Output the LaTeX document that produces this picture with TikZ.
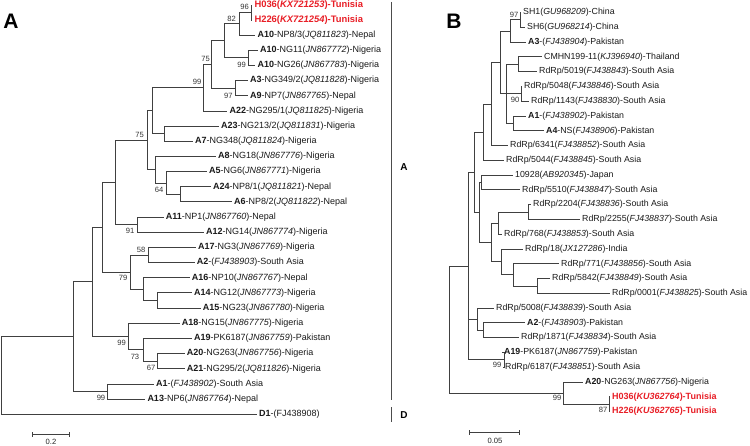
\documentclass[tikz,border=0pt]{standalone}
\usepackage{fontspec}
\setmainfont{Liberation Sans}
\usetikzlibrary{calc}
\definecolor{tunred}{RGB}{232,30,38}
\begin{document}
\begin{tikzpicture}[x=1pt,y=-1pt,
  br/.style={draw=black!75,line width=0.8pt},
  leaf/.style={anchor=west,inner xsep=2pt,inner ysep=0.5pt,font=\fontsize{9}{10}\selectfont,text=black!90},
  leafb/.style={leaf,font=\fontsize{8.8}{10}\selectfont},
  redleaf/.style={leaf,text=tunred,font=\fontsize{9.4}{10}\selectfont\bfseries},
  redleafb/.style={leaf,text=tunred,font=\fontsize{9}{10}\selectfont\bfseries},
  bs/.style={inner sep=0pt,font=\fontsize{7.6}{8}\selectfont,text=black!80},
  panel/.style={inner sep=0pt,font=\fontsize{21}{24}\selectfont\bfseries},
  cladelab/.style={inner sep=0pt,font=\fontsize{10}{12}\selectfont\bfseries},
  divl/.style={draw=black!70,line width=0.9pt},
  sbar/.style={draw=black!75,line width=0.8pt},
  sblab/.style={inner sep=0pt,font=\fontsize{7.6}{9}\selectfont,text=black!85},
]
\useasboundingbox (0,0) rectangle (750,446);

% ---------------- panel labels
\node[panel] (pA) at (11,21) {A};
\node[panel] (pB) at (454,21) {B};

% ---------------- tree A leaves
\node[redleaf] (a1) at (252.3,5) {H036(\textit{KX721253})-Tunisia};
\node[redleaf] (a2) at (252.3,20) {H226(\textit{KX721254})-Tunisia};
\node[leaf] (a3) at (255.3,35) {\textbf{A10}-NP8/3(\textit{JQ811823})-Nepal};
\node[leaf] (a4) at (258,50.4) {\textbf{A10}-NG11(\textit{JN867772})-Nigeria};
\node[leaf] (a5) at (255.3,65.4) {\textbf{A10}-NG26(\textit{JN867783})-Nigeria};
\node[leaf] (a6) at (248,80.6) {\textbf{A3}-NG349/2(\textit{JQ811828})-Nigeria};
\node[leaf] (a7) at (248,95.8) {\textbf{A9}-NP7(\textit{JN867765})-Nepal};
\node[leaf] (a8) at (227.3,111) {\textbf{A22}-NG295/1(\textit{JQ811825})-Nigeria};
\node[leaf] (a9) at (219,126.2) {\textbf{A23}-NG213/2(\textit{JQ811831})-Nigeria};
\node[leaf] (a10) at (193,141.4) {\textbf{A7}-NG348(\textit{JQ811824})-Nigeria};
\node[leaf] (a11) at (216,156.5) {\textbf{A8}-NG18(\textit{JN867776})-Nigeria};
\node[leaf] (a12) at (207,171.6) {\textbf{A5}-NG6(\textit{JN867771})-Nigeria};
\node[leaf] (a13) at (211,186.8) {\textbf{A24}-NP8/1(\textit{JQ811821})-Nepal};
\node[leaf] (a14) at (232,201.9) {\textbf{A6}-NP8/2(\textit{JQ811822})-Nepal};
\node[leaf] (a15) at (163.7,217) {\textbf{A11}-NP1(\textit{JN867760})-Nepal};
\node[leaf] (a16) at (204,232.2) {\textbf{A12}-NG14(\textit{JN867774})-Nigeria};
\node[leaf] (a17) at (196,247.4) {\textbf{A17}-NG3(\textit{JN867769})-Nigeria};
\node[leaf] (a18) at (194.7,262.5) {\textbf{A2}-(\textit{FJ438903})-South Asia};
\node[leaf] (a19) at (189.7,277.7) {\textbf{A16}-NP10(\textit{JN867767})-Nepal};
\node[leaf] (a20) at (192,292.9) {\textbf{A14}-NG12(\textit{JN867773})-Nigeria};
\node[leaf] (a21) at (200.7,308) {\textbf{A15}-NG23(\textit{JN867780})-Nigeria};
\node[leaf] (a22) at (179.7,323.2) {\textbf{A18}-NG15(\textit{JN867775})-Nigeria};
\node[leaf] (a23) at (192,338.4) {\textbf{A19}-PK6187(\textit{JN867759})-Pakistan};
\node[leaf] (a24) at (184.7,353.6) {\textbf{A20}-NG263(\textit{JN867756})-Nigeria};
\node[leaf] (a25) at (184.7,368.8) {\textbf{A21}-NG295/2(\textit{JQ811826})-Nigeria};
\node[leaf] (a26) at (154,384) {\textbf{A1}-(\textit{FJ438902})-South Asia};
\node[leaf] (a27) at (145.3,399.2) {\textbf{A13}-NP6(\textit{JN867764})-Nepal};
\node[leaf] (a28) at (257,414.4) {\textbf{D1}-(FJ438908)};

% ---------------- tree A internal nodes
\coordinate (nA1) at (251,12.5);
\coordinate (nA2) at (239,23.75);
\coordinate (nA3) at (248.3,57.9);
\coordinate (nA4) at (224.3,40.8);
\coordinate (nA5) at (235.7,88.2);
\coordinate (nA6) at (211.7,64.5);
\coordinate (nA7) at (203.3,87.75);
\coordinate (nAX) at (164,133.8);
\coordinate (nA8) at (152.7,110.8);
\coordinate (nA10) at (180,194.35);
\coordinate (nA11) at (166,183);
\coordinate (nA12) at (155,169.75);
\coordinate (nA9) at (147,140.3);
\coordinate (nA13) at (137,224.6);
\coordinate (nA14) at (115,182.45);
\coordinate (nA15) at (148,254.95);
\coordinate (nA16) at (157,300.45);
\coordinate (nA17) at (143,289.1);
\coordinate (nA18) at (130,272);
\coordinate (nA19) at (102,227.2);
\coordinate (nA22) at (157,361.2);
\coordinate (nA20) at (143,349.8);
\coordinate (nA21) at (128,336.5);
\coordinate (nA23) at (92,281.85);
\coordinate (nA24) at (107,391.6);
\coordinate (nA25) at (73,336.7);
\coordinate (rootA) at (1,375.55);

\draw[br] (nA1) |- (a1.west); \draw[br] (nA1) |- (a2.west);
\draw[br] (nA2) |- (nA1); \draw[br] (nA2) |- (a3.west);
\draw[br] (nA3) |- (a4.west); \draw[br] (nA3) |- (a5.west);
\draw[br] (nA4) |- (nA2); \draw[br] (nA4) |- (nA3);
\draw[br] (nA5) |- (a6.west); \draw[br] (nA5) |- (a7.west);
\draw[br] (nA6) |- (nA4); \draw[br] (nA6) |- (nA5);
\draw[br] (nA7) |- (nA6); \draw[br] (nA7) |- (a8.west);
\draw[br] (nAX) |- (a9.west); \draw[br] (nAX) |- (a10.west);
\draw[br] (nA8) |- (nA7); \draw[br] (nA8) |- (nAX);
\draw[br] (nA10) |- (a13.west); \draw[br] (nA10) |- (a14.west);
\draw[br] (nA11) |- (a12.west); \draw[br] (nA11) |- (nA10);
\draw[br] (nA12) |- (a11.west); \draw[br] (nA12) |- (nA11);
\draw[br] (nA9) |- (nA8); \draw[br] (nA9) |- (nA12);
\draw[br] (nA13) |- (a15.west); \draw[br] (nA13) |- (a16.west);
\draw[br] (nA14) |- (nA9); \draw[br] (nA14) |- (nA13);
\draw[br] (nA15) |- (a17.west); \draw[br] (nA15) |- (a18.west);
\draw[br] (nA16) |- (a20.west); \draw[br] (nA16) |- (a21.west);
\draw[br] (nA17) |- (a19.west); \draw[br] (nA17) |- (nA16);
\draw[br] (nA18) |- (nA15); \draw[br] (nA18) |- (nA17);
\draw[br] (nA19) |- (nA14); \draw[br] (nA19) |- (nA18);
\draw[br] (nA22) |- (a24.west); \draw[br] (nA22) |- (a25.west);
\draw[br] (nA20) |- (a23.west); \draw[br] (nA20) |- (nA22);
\draw[br] (nA21) |- (a22.west); \draw[br] (nA21) |- (nA20);
\draw[br] (nA23) |- (nA19); \draw[br] (nA23) |- (nA21);
\draw[br] (nA24) |- (a26.west); \draw[br] (nA24) |- (a27.west);
\draw[br] (nA25) |- (nA23); \draw[br] (nA25) |- (nA24);
\draw[br] (rootA) |- (nA25); \draw[br] (rootA) |- (a28.west);

% bootstrap A
\node[bs] (bA1) at (244.5,7) {96};
\node[bs] (bA2) at (231.7,18.5) {82};
\node[bs] (bA3) at (241.5,64.5) {99};
\node[bs] (bA5) at (228.3,95.7) {97};
\node[bs] (bA6) at (205.5,59.3) {75};
\node[bs] (bA7) at (197,82) {99};
\node[bs] (bA9) at (139.5,135) {75};
\node[bs] (bA11) at (159,190) {64};
\node[bs] (bA13) at (130,231) {91};
\node[bs] (bA15) at (141,249.5) {58};
\node[bs] (bA18) at (123,278) {79};
\node[bs] (bA21) at (121.7,343) {99};
\node[bs] (bA20) at (135,357) {73};
\node[bs] (bA22) at (151,368) {67};
\node[bs] (bA24) at (101,398) {99};

% scale bar A
\coordinate (sA1) at (32,434.5); \coordinate (sA2) at (69,434.5);
\draw[sbar] (sA1) -- (sA2);
\draw[sbar] ($(sA1)+(0,-2.5)$) -- ($(sA1)+(0,2.5)$);
\draw[sbar] ($(sA2)+(0,-2.5)$) -- ($(sA2)+(0,2.5)$);
\node[sblab] (sAl) at (51,441.5) {0.2};

% ---------------- divider and clade labels
\draw[divl] (391.5,2) -- (391.5,400);
\draw[divl] (391.5,407) -- (391.5,422);
\node[cladelab] (cA) at (404,167) {A};
\node[cladelab] (cD) at (404,415) {D};

% ---------------- tree B leaves
\node[leafb] (b1) at (521,12.5) {SH1(\textit{GU968209})-China};
\node[leafb] (b2) at (525,27.28) {SH6(\textit{GU968214})-China};
\node[leafb] (b3) at (526,42.06) {\textbf{A3}-(\textit{FJ438904})-Pakistan};
\node[leafb] (b4) at (542,56.84) {CMHN199-11(\textit{KJ396940})-Thailand};
\node[leafb] (b5) at (537,71.62) {RdRp/5019(\textit{FJ438843})-South Asia};
\node[leafb] (b6) at (522,86.4) {RdRp/5048(\textit{FJ438846})-South Asia};
\node[leafb] (b7) at (529,101.18) {RdRp/1143(\textit{FJ438830})-South Asia};
\node[leafb] (b8) at (526,115.96) {\textbf{A1}-(\textit{FJ438902})-Pakistan};
\node[leafb] (b9) at (544,130.74) {\textbf{A4}-NS(\textit{FJ438906})-Pakistan};
\node[leafb] (b10) at (508,145.52) {RdRp/6341(\textit{FJ438852})-South Asia};
\node[leafb] (b11) at (504,160.3) {RdRp/5044(\textit{FJ438845})-South Asia};
\node[leafb] (b12) at (513,175.08) {10928(\textit{AB920345})-Japan};
\node[leafb] (b13) at (520,189.86) {RdRp/5510(\textit{FJ438847})-South Asia};
\node[leafb] (b14) at (531,204.64) {RdRp/2204(\textit{FJ438836})-South Asia};
\node[leafb] (b15) at (580,219.42) {RdRp/2255(\textit{FJ438837})-South Asia};
\node[leafb] (b16) at (502,234.2) {RdRp/768(\textit{FJ438853})-South Asia};
\node[leafb] (b17) at (523,248.98) {RdRp/18(\textit{JX127286})-India};
\node[leafb] (b18) at (559,263.76) {RdRp/771(\textit{FJ438856})-South Asia};
\node[leafb] (b19) at (550,278.54) {RdRp/5842(\textit{FJ438849})-South Asia};
\node[leafb] (b20) at (610,293.32) {RdRp/0001(\textit{FJ438825})-South Asia};
\node[leafb] (b21) at (494,308.1) {RdRp/5008(\textit{FJ438839})-South Asia};
\node[leafb] (b22) at (525,322.88) {\textbf{A2}-(\textit{FJ438903})-Pakistan};
\node[leafb] (b23) at (519,337.66) {RdRp/1871(\textit{FJ438834})-South Asia};
\node[leafb] (b24) at (502,352.44) {\textbf{A19}-PK6187(\textit{JN867759})-Pakistan};
\node[leafb] (b25) at (503,367.22) {RdRp/6187(\textit{FJ438851})-South Asia};
\node[leafb] (b26) at (583,382) {\textbf{A20}-NG263(\textit{JN867756})-Nigeria};
\node[redleafb] (b27) at (610,396.78) {H036(\textit{KU362764})-Tunisia};
\node[redleafb] (b28) at (610,411.56) {H226(\textit{KU362765})-Tunisia};

% ---------------- tree B internal nodes
\coordinate (nB1) at (520,19.89);
\coordinate (nB2) at (510,30.98);
\coordinate (nB3) at (518,64.23);
\coordinate (nB4) at (521,93.79);
\coordinate (nB5) at (513,123.35);
\coordinate (nB6) at (506,93.79);
\coordinate (nB7) at (500,62.39);
\coordinate (nB8) at (491,103.95);
\coordinate (nB9) at (483,132.1);
\coordinate (nB10) at (481,182.47);
\coordinate (nB11) at (528,212.03);
\coordinate (nB12) at (498,223.1);
\coordinate (nB15) at (537,285.93);
\coordinate (nB14) at (513,274.85);
\coordinate (nB13) at (501,261.9);
\coordinate (nB16) at (491,242.5);
\coordinate (nB17) at (479,212.5);
\coordinate (nB18) at (474,172.3);
\coordinate (nB20) at (483,330.27);
\coordinate (nB21) at (477,319.2);
\coordinate (nB19) at (504,359.83);
\coordinate (nB22) at (468,266.07);
\coordinate (nB24) at (609,404.17);
\coordinate (nB25) at (563,393.1);
\coordinate (rootB) at (449,329.6);

\draw[br] (nB1) |- (b1.west); \draw[br] (nB1) |- (b2.west);
\draw[br] (nB2) |- (nB1); \draw[br] (nB2) |- (b3.west);
\draw[br] (nB3) |- (b4.west); \draw[br] (nB3) |- (b5.west);
\draw[br] (nB4) |- (b6.west); \draw[br] (nB4) |- (b7.west);
\draw[br] (nB5) |- (b8.west); \draw[br] (nB5) |- (b9.west);
\draw[br] (nB6) |- (nB3); \draw[br] (nB6) |- (nB4); \draw[br] (nB6) |- (nB5);
\draw[br] (nB7) |- (nB2); \draw[br] (nB7) |- (nB6);
\draw[br] (nB8) |- (nB7); \draw[br] (nB8) |- (b10.west);
\draw[br] (nB9) |- (nB8); \draw[br] (nB9) |- (b11.west);
\draw[br] (nB10) |- (b12.west); \draw[br] (nB10) |- (b13.west);
\draw[br] (nB11) |- (b14.west); \draw[br] (nB11) |- (b15.west);
\draw[br] (nB12) |- (nB11); \draw[br] (nB12) |- (b16.west);
\draw[br] (nB15) |- (b19.west); \draw[br] (nB15) |- (b20.west);
\draw[br] (nB14) |- (b18.west); \draw[br] (nB14) |- (nB15);
\draw[br] (nB13) |- (b17.west); \draw[br] (nB13) |- (nB14);
\draw[br] (nB16) |- (nB12); \draw[br] (nB16) |- (nB13);
\draw[br] (nB17) |- (nB10); \draw[br] (nB17) |- (nB16);
\draw[br] (nB18) |- (nB9); \draw[br] (nB18) |- (nB17);
\draw[br] (nB20) |- (b22.west); \draw[br] (nB20) |- (b23.west);
\draw[br] (nB21) |- (b21.west); \draw[br] (nB21) |- (nB20);
\draw[br] (nB19) |- (b24.west); \draw[br] (nB19) |- (b25.west);
\draw[br] (nB22) |- (nB18); \draw[br] (nB22) |- (nB21); \draw[br] (nB22) |- (nB19);
\draw[br] (nB24) |- (b27.west); \draw[br] (nB24) |- (b28.west);
\draw[br] (nB25) |- (b26.west); \draw[br] (nB25) |- (nB24);
\draw[br] (rootB) |- (nB22); \draw[br] (rootB) |- (nB25);

% bootstrap B
\node[bs] (bB1) at (514,15) {97};
\node[bs] (bB4) at (515,100) {90};
\node[bs] (bB19) at (497,365) {99};
\node[bs] (bB25) at (557,398) {99};
\node[bs] (bB24) at (603,410) {87};

% scale bar B
\coordinate (sB1) at (469,432.5); \coordinate (sB2) at (519,432.5);
\draw[sbar] (sB1) -- (sB2);
\draw[sbar] ($(sB1)+(0,-2.5)$) -- ($(sB1)+(0,2.5)$);
\draw[sbar] ($(sB2)+(0,-2.5)$) -- ($(sB2)+(0,2.5)$);
\node[sblab] (sBl) at (495,440.5) {0.05};
\end{tikzpicture}
\end{document}
